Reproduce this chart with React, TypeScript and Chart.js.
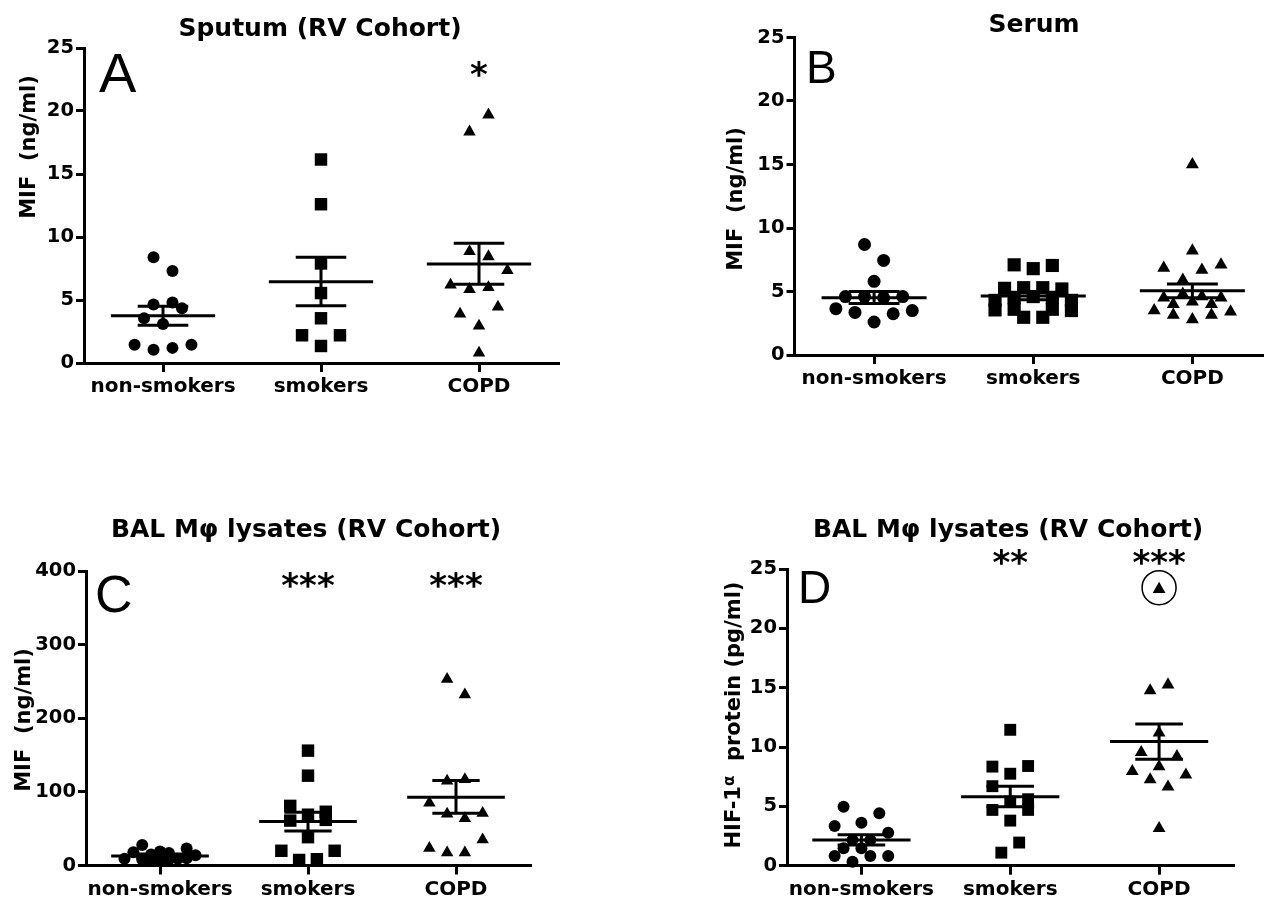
import React, { useEffect, useRef } from 'react';
import { Chart, registerables } from 'chart.js';

Chart.register(...registerables);

// ---------- shared ----------
const categories = ['non-smokers', 'smokers', 'COPD'];

// ---------- Panel A: Sputum (RV Cohort) ----------
const aNonVals = [8.4, 7.3, 4.65, 4.8, 4.35, 3.55, 3.1, 1.45, 1.05, 1.2, 1.45];
const aNonSlots = [-1, 1, -1, 1, 2, -2, 0, -3, -1, 1, 3];
const aSmkVals = [16.15, 12.6, 7.9, 5.55, 3.55, 2.2, 2.2, 1.35];
const aSmkSlots = [0, 0, 0, 0, 0, -2, 2, 0];
const aCopdVals = [19.7, 18.35, 8.85, 8.45, 7.35, 6.2, 5.85, 6.0, 4.45, 3.9, 2.95, 0.8];
const aCopdSlots = [1, -1, -1, 1, 3, -3, -1, 1, 2, -2, 0, 0];
const aMean = [3.75, 6.45, 7.85];
const aSemHi = [4.5, 8.4, 9.5];
const aSemLo = [3.0, 4.55, 6.25];
const aSig = ['', '', '*'];
const aSigY = 23.3;

// ---------- Panel B: Serum ----------
const bNonVals = [8.7, 7.45, 5.8, 4.6, 4.6, 4.5, 4.6, 3.65, 3.35, 3.25, 3.5, 2.6];
const bNonSlots = [-1, 1, 0, -3, -1, 1, 3, -4, -2, 2, 4, 0];
const bSmkVals = [7.1, 6.8, 7.05, 5.25, 5.3, 5.3, 5.2, 4.5, 4.6, 4.5, 4.3, 4.3, 3.55, 3.6, 3.6, 3.5, 2.97, 2.97];
const bSmkSlots = [-2, 0, 2, -3, -1, 1, 3, -2, 0, 2, -4, 4, -4, -2, 2, 4, -1, 1];
const bCopdVals = [15.0, 8.2, 6.85, 6.7, 7.1, 5.9, 4.5, 4.8, 4.6, 4.5, 4.0, 4.2, 4.0, 3.5, 3.15, 2.8, 3.15, 3.4];
const bCopdSlots = [0, 0, -3, 1, 3, -1, -3, -1, 1, 3, -2, 0, 2, -4, -2, 0, 2, 4];
const bMean = [4.5, 4.65, 5.05];
const bSemHi = [5.0, 4.95, 5.6];
const bSemLo = [4.05, 4.35, 4.5];
const bSig = ['', '', ''];
const bSigY = 23;

// ---------- Panel C: BAL Mφ lysates – MIF ----------
const cNonVals = [28, 18, 15, 19, 17, 23, 14, 9, 8, 7, 9, 6, 8, 10];
const cNonSlots = [-2, -3, -1, 0, 1, 3, 4, -4, -2, 0, 2, -1, 1, 3];
const cSmkVals = [156, 122, 81, 73, 69, 61, 62, 38.5, 20, 20, 7.5, 8.5];
const cSmkSlots = [0, 0, -2, 2, 0, -2, 2, 0, -3, 3, -1, 1];
const cCopdVals = [253, 232, 115, 117, 85, 70, 64, 71, 35, 23.5, 17.5, 17.5];
const cCopdSlots = [-1, 1, -1, 1, -3, -1, 1, 3, 3, -3, -1, 1];
const cMean = [13, 59.8, 92.8];
const cSemHi = [15.5, 72.4, 115.4];
const cSemLo = [10.5, 47, 71];
const cSig = ['', '***', '***'];
const cSigY = 388;

// ---------- Panel D: BAL Mφ lysates – HIF-1α ----------
const dNonVals = [4.97, 4.41, 3.34, 3.62, 2.78, 2.16, 2.16, 1.47, 1.47, 0.82, 0.34, 0.82, 0.82];
const dNonSlots = [-2, 2, -3, 0, 3, -1, 1, -2, 0, -3, -1, 1, 3];
const dSmkVals = [11.45, 8.35, 8.4, 7.75, 6.7, 5.6, 5.4, 4.7, 4.7, 3.8, 1.95, 1.1];
const dSmkSlots = [0, -2, 2, 0, -2, 2, 0, -2, 2, 0, 1, -1];
const dCopdVals = [23.3, 14.75, 15.25, 11.2, 9.55, 9.2, 8.35, 7.95, 7.65, 7.25, 6.65, 3.15];
const dCopdSlots = [0, -1, 1, 0, -2, 2, 0, -3, 3, -1, 1, 0];
const dMean = [2.16, 5.82, 10.46];
const dSemHi = [2.6, 6.7, 11.95];
const dSemLo = [1.74, 4.97, 8.97];
const dSig = ['', '**', '***'];
const dSigY = 26.0;
const dCircled = [2, 0]; // group, index of the circled outlier

// ---------- rendering helpers ----------
const SLOT = 0.06;
const MEAN_HALF = 0.33;
const SEM_HALF = 0.16;
const FONT = '"DejaVu Sans", "Liberation Sans", Arial, sans-serif';
const LETTER_FONT = '"Liberation Sans", Arial, sans-serif';
const STYLES = ['circle', 'rect', 'triangle'];

type Part = { t: string; size: number; dy: number };

interface PanelSpec {
  left: number; top: number; w: number; h: number;
  pad: { left: number; right: number; top: number; bottom: number };
  xMax: number; yMax: number; yStep: number;
  groups: { v: number[]; s: number[] }[];
  mean: number[]; hi: number[]; lo: number[];
  radii: number[];
  title: string; titleX: number; titleY: number;
  letter: string; letterX: number; letterY: number; letterSize: number;
  yTitle: Part[]; yTitleX: number; yTitleY: number;
  sig: string[]; sigY: number;
  circled?: number[];
}

function annotPlugin(spec: PanelSpec) {
  return {
    id: 'annot',
    afterDraw(chart: any) {
      const ctx: CanvasRenderingContext2D = chart.ctx;
      const xs = chart.scales.x;
      const ys = chart.scales.y;
      ctx.save();
      ctx.fillStyle = '#000';
      ctx.strokeStyle = '#000';

      ctx.font = `bold 25px ${FONT}`;
      ctx.textAlign = 'center';
      ctx.textBaseline = 'alphabetic';
      ctx.fillText(spec.title, spec.titleX, spec.titleY);

      ctx.font = `${spec.letterSize}px ${LETTER_FONT}`;
      ctx.textAlign = 'left';
      ctx.fillText(spec.letter, spec.letterX, spec.letterY);

      ctx.font = `bold 34px ${FONT}`;
      ctx.textAlign = 'center';
      spec.sig.forEach((s, i) => {
        if (!s) return;
        const m = ctx.measureText(s);
        const off = (m.actualBoundingBoxAscent - m.actualBoundingBoxDescent) / 2;
        ctx.fillText(s, xs.getPixelForValue(i), ys.getPixelForValue(spec.sigY) + off);
      });

      if (spec.circled) {
        const [g, k] = spec.circled;
        const grp = spec.groups[g];
        const px = xs.getPixelForValue(g + grp.s[k] * SLOT);
        const py = ys.getPixelForValue(grp.v[k]);
        ctx.beginPath();
        ctx.lineWidth = 1.5;
        ctx.arc(px, py - 1.5, 17, 0, Math.PI * 2);
        ctx.stroke();
      }

      ctx.save();
      ctx.translate(spec.yTitleX, spec.yTitleY);
      ctx.rotate(-Math.PI / 2);
      ctx.textAlign = 'left';
      ctx.textBaseline = 'middle';
      let total = 0;
      const widths = spec.yTitle.map((p) => {
        ctx.font = `bold ${p.size}px ${FONT}`;
        const w = ctx.measureText(p.t).width;
        total += w;
        return w;
      });
      let cx = -total / 2;
      spec.yTitle.forEach((p, i) => {
        ctx.font = `bold ${p.size}px ${FONT}`;
        ctx.fillText(p.t, cx, p.dy);
        cx += widths[i];
      });
      ctx.restore();
      ctx.restore();
    },
  };
}

function buildConfig(spec: PanelSpec): any {
  const lineData: any[] = [];
  for (let i = 0; i < 3; i++) {
    lineData.push(
      { x: i - MEAN_HALF, y: spec.mean[i] }, { x: i + MEAN_HALF, y: spec.mean[i] }, { x: i, y: null },
      { x: i - SEM_HALF, y: spec.hi[i] }, { x: i + SEM_HALF, y: spec.hi[i] }, { x: i, y: null },
      { x: i - SEM_HALF, y: spec.lo[i] }, { x: i + SEM_HALF, y: spec.lo[i] }, { x: i, y: null },
      { x: i, y: spec.lo[i] }, { x: i, y: spec.hi[i] }, { x: i, y: null },
    );
  }
  const datasets: any[] = [
    {
      data: lineData,
      showLine: true,
      spanGaps: false,
      borderColor: '#000',
      borderWidth: 3,
      pointRadius: 0,
      clip: false,
    },
    ...spec.groups.map((g, gi) => ({
      data: g.v.map((v, k) => ({ x: gi + g.s[k] * SLOT, y: v })),
      showLine: false,
      pointStyle: STYLES[gi],
      pointRadius: spec.radii[gi],
      pointBackgroundColor: '#000',
      pointBorderColor: '#000',
      pointBorderWidth: 0,
      clip: false,
    })),
  ];
  const xFont = { family: FONT, size: 20, weight: 'bold' };
  const yFont = { family: FONT, size: 19.5, weight: 'bold' };
  const grid = {
    display: true,
    drawOnChartArea: false,
    drawTicks: true,
    color: '#000',
    lineWidth: 3,
    tickColor: '#000',
    tickWidth: 3,
  };
  const padLeft = spec.pad.left;
  const padBottom = spec.pad.bottom;
  return {
    type: 'scatter',
    data: { datasets },
    options: {
      responsive: false,
      animation: false,
      events: [],
      layout: {
        padding: { left: 0, bottom: 0, top: spec.pad.top, right: spec.pad.right },
        autoPadding: false,
      },
      plugins: {
        legend: { display: false },
        tooltip: { enabled: false },
        title: { display: false },
      },
      scales: {
        x: {
          type: 'linear',
          min: -0.5,
          max: spec.xMax,
          afterFit: (s: any) => { s.height = padBottom; },
          afterBuildTicks: (s: any) => { s.ticks = [0, 1, 2].map((value) => ({ value })); },
          ticks: {
            callback: (v: any) => categories[v] ?? '',
            font: xFont,
            color: '#000',
            padding: 3,
            maxRotation: 0,
            minRotation: 0,
            autoSkip: false,
          },
          grid: { ...grid, tickLength: 9 },
          border: { display: true, color: '#000', width: 3 },
        },
        y: {
          type: 'linear',
          min: 0,
          max: spec.yMax,
          afterFit: (s: any) => { s.width = padLeft; },
          ticks: { stepSize: spec.yStep, font: yFont, color: '#000', padding: 2 },
          grid: { ...grid, tickLength: 8 },
          border: { display: true, color: '#000', width: 3 },
        },
      },
    },
    plugins: [annotPlugin(spec)],
  };
}

const mifTitle: Part[] = [{ t: 'MIF  (ng/ml)', size: 21, dy: 0 }];
const hifTitle: Part[] = [
  { t: 'HIF-1', size: 21, dy: 0 },
  { t: 'α', size: 15, dy: -5 },
  { t: '  protein (pg/ml)', size: 21, dy: 0 },
];

const panels: PanelSpec[] = [
  {
    left: 0, top: 0, w: 632, h: 450,
    pad: { left: 84, right: 74, top: 48, bottom: 87 },
    xMax: 2.5, yMax: 25, yStep: 5,
    groups: [
      { v: aNonVals, s: aNonSlots },
      { v: aSmkVals, s: aSmkSlots },
      { v: aCopdVals, s: aCopdSlots },
    ],
    mean: aMean, hi: aSemHi, lo: aSemLo,
    radii: [6, 8.8, 7.2],
    title: 'Sputum (RV Cohort)', titleX: 320, titleY: 36,
    letter: 'A', letterX: 99, letterY: 92, letterSize: 56,
    yTitle: mifTitle, yTitleX: 30, yTitleY: 147,
    sig: aSig, sigY: aSigY,
  },
  {
    left: 632, top: 0, w: 632, h: 450,
    pad: { left: 162.5, right: 0, top: 37.5, bottom: 95 },
    xMax: 2.45, yMax: 25, yStep: 5,
    groups: [
      { v: bNonVals, s: bNonSlots },
      { v: bSmkVals, s: bSmkSlots },
      { v: bCopdVals, s: bCopdSlots },
    ],
    mean: bMean, hi: bSemHi, lo: bSemLo,
    radii: [6.5, 9.3, 7.5],
    title: 'Serum', titleX: 402, titleY: 32,
    letter: 'B', letterX: 174, letterY: 83, letterSize: 46,
    yTitle: mifTitle, yTitleX: 105, yTitleY: 199,
    sig: bSig, sigY: bSigY,
  },
  {
    left: 0, top: 450, w: 632, h: 449,
    pad: { left: 86, right: 102, top: 121, bottom: 33.5 },
    xMax: 2.5, yMax: 400, yStep: 100,
    groups: [
      { v: cNonVals, s: cNonSlots },
      { v: cSmkVals, s: cSmkSlots },
      { v: cCopdVals, s: cCopdSlots },
    ],
    mean: cMean, hi: cSemHi, lo: cSemLo,
    radii: [6, 8.8, 7.2],
    title: 'BAL Mφ lysates (RV Cohort)', titleX: 306, titleY: 87,
    letter: 'C', letterX: 95, letterY: 162, letterSize: 52,
    yTitle: mifTitle, yTitleX: 25, yTitleY: 270,
    sig: cSig, sigY: cSigY,
  },
  {
    left: 632, top: 450, w: 632, h: 449,
    pad: { left: 155, right: 30.5, top: 119, bottom: 33.3 },
    xMax: 2.5, yMax: 25, yStep: 5,
    groups: [
      { v: dNonVals, s: dNonSlots },
      { v: dSmkVals, s: dSmkSlots },
      { v: dCopdVals, s: dCopdSlots },
    ],
    mean: dMean, hi: dSemHi, lo: dSemLo,
    radii: [6, 8.4, 7.4],
    title: 'BAL Mφ lysates (RV Cohort)', titleX: 376, titleY: 87,
    letter: 'D', letterX: 166, letterY: 153, letterSize: 46,
    yTitle: hifTitle, yTitleX: 103, yTitleY: 265,
    sig: dSig, sigY: dSigY,
    circled: dCircled,
  },
];

function PanelChart({ spec }: { spec: PanelSpec }) {
  const ref = useRef<HTMLCanvasElement>(null);
  useEffect(() => {
    if (!ref.current) return;
    const chart = new Chart(ref.current, buildConfig(spec));
    return () => chart.destroy();
  }, [spec]);
  return (
    <canvas
      ref={ref}
      width={spec.w}
      height={spec.h}
      style={{ position: 'absolute', left: spec.left, top: spec.top, width: spec.w, height: spec.h }}
    />
  );
}

export default function App() {
  return (
    <div
      style={{
        position: 'absolute',
        left: 0,
        top: 0,
        width: 1264,
        height: 899,
        overflow: 'hidden',
        background: '#fff',
      }}
    >
      {panels.map((p, i) => (
        <PanelChart key={i} spec={p} />
      ))}
    </div>
  );
}
